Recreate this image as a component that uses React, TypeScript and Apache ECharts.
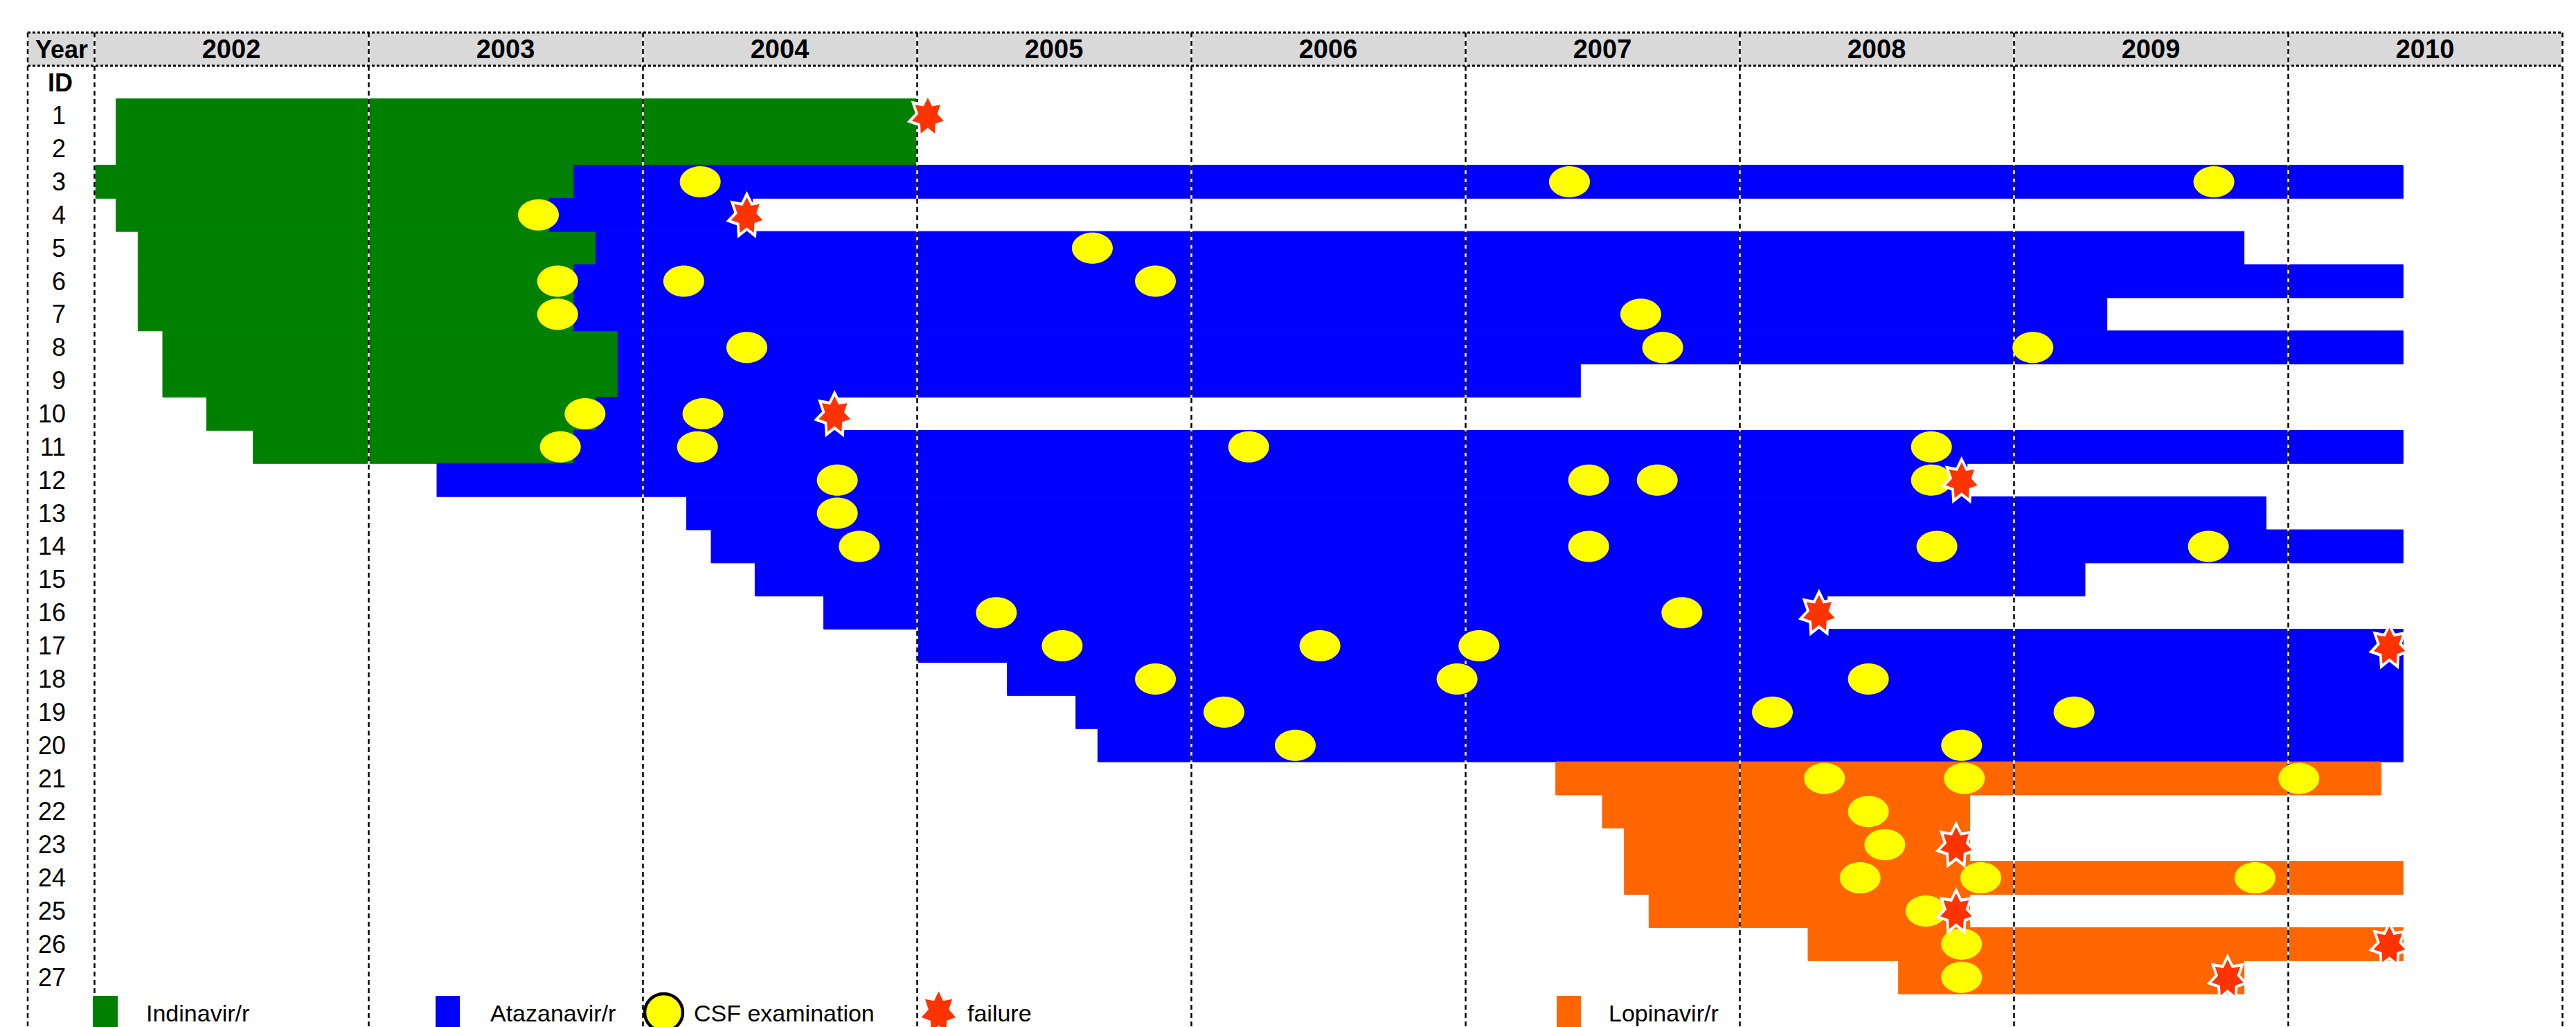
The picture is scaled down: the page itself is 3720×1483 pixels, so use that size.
import React, { useEffect, useRef } from 'react';
import * as echarts from 'echarts';

// ---------------- data ----------------
const rowCategories = [
  'Year', 'ID',
  '1', '2', '3', '4', '5', '6', '7', '8', '9', '10', '11', '12', '13', '14',
  '15', '16', '17', '18', '19', '20', '21', '22', '23', '24', '25', '26', '27',
  'legend',
];
const yearLabels = ['2002', '2003', '2004', '2005', '2006', '2007', '2008', '2009', '2010'];
const yearBoundaries = [2002, 2003, 2004, 2005, 2006, 2007, 2008, 2009, 2010, 2011];
const legendLabels = ['Indinavir/r', 'Atazanavir/r', 'CSF examination', 'failure', 'Lopinavir/r'];

// [patient ID, start, end] in decimal years
const indinavirSpans: [string, number, number][] = [
  ['1', 2002.08, 2005.0],
  ['2', 2002.08, 2005.0],
  ['3', 2002.0, 2003.75],
  ['4', 2002.08, 2003.66],
  ['5', 2002.16, 2003.83],
  ['6', 2002.16, 2003.75],
  ['7', 2002.16, 2003.75],
  ['8', 2002.25, 2003.91],
  ['9', 2002.25, 2003.91],
  ['10', 2002.41, 2003.83],
  ['11', 2002.58, 2003.75],
];
const atazanavirSpans: [string, number, number][] = [
  ['3', 2003.75, 2010.42],
  ['4', 2003.66, 2004.4],
  ['5', 2003.83, 2009.84],
  ['6', 2003.75, 2010.42],
  ['7', 2003.75, 2009.34],
  ['8', 2003.91, 2010.42],
  ['9', 2003.91, 2007.42],
  ['10', 2003.83, 2004.71],
  ['11', 2003.75, 2010.42],
  ['12', 2003.25, 2008.83],
  ['13', 2004.16, 2009.92],
  ['14', 2004.25, 2010.42],
  ['15', 2004.41, 2009.26],
  ['16', 2004.66, 2008.32],
  ['17', 2005.0, 2010.42],
  ['18', 2005.33, 2010.42],
  ['19', 2005.58, 2010.42],
  ['20', 2005.66, 2010.42],
];
const lopinavirSpans: [string, number, number][] = [
  ['21', 2007.33, 2010.34],
  ['22', 2007.5, 2008.84],
  ['23', 2007.58, 2008.84],
  ['24', 2007.58, 2010.42],
  ['25', 2007.67, 2008.84],
  ['26', 2008.25, 2010.42],
  ['27', 2008.58, 2009.84],
];
// [patient ID, time]
const csfExams: [string, number][] = [
  ['3', 2004.21], ['3', 2007.38], ['3', 2009.73],
  ['4', 2003.62],
  ['5', 2005.64],
  ['6', 2003.69], ['6', 2004.15], ['6', 2005.87],
  ['7', 2003.69], ['7', 2007.64],
  ['8', 2004.38], ['8', 2007.72], ['8', 2009.07],
  ['10', 2003.79], ['10', 2004.22],
  ['11', 2003.7], ['11', 2004.2], ['11', 2006.21], ['11', 2008.7],
  ['12', 2004.71], ['12', 2007.45], ['12', 2007.7], ['12', 2008.7],
  ['13', 2004.71],
  ['14', 2004.79], ['14', 2007.45], ['14', 2008.72], ['14', 2009.71],
  ['16', 2005.29], ['16', 2007.79],
  ['17', 2005.53], ['17', 2006.47], ['17', 2007.05],
  ['18', 2005.87], ['18', 2006.97], ['18', 2008.47],
  ['19', 2006.12], ['19', 2008.12], ['19', 2009.22],
  ['20', 2006.38], ['20', 2008.81],
  ['21', 2008.31], ['21', 2008.82], ['21', 2010.04],
  ['22', 2008.47],
  ['23', 2008.53],
  ['24', 2008.44], ['24', 2008.88], ['24', 2009.88],
  ['25', 2008.68],
  ['26', 2008.81],
  ['27', 2008.81],
];
const failures: [string, number][] = [
  ['1', 2005.04],
  ['4', 2004.38],
  ['10', 2004.7],
  ['12', 2008.81],
  ['16', 2008.29],
  ['17', 2010.37],
  ['23', 2008.79],
  ['25', 2008.79],
  ['26', 2010.37],
  ['27', 2009.78],
];

// ---------------- styles ----------------
const FONT = '"Liberation Sans", Arial, Helvetica, sans-serif';
const GREEN = '#008000';
const BLUE = '#0000FF';
const ORANGE = '#FF6600';
const YELLOW = '#FFFF00';
const RED = '#FF3300';

function starPoints(points: number, rx: number, ry: number, innerRatio: number, cx = 0, cy = 0) {
  const pts: number[][] = [];
  for (let i = 0; i < points * 2; i++) {
    const k = i % 2 === 0 ? 1 : innerRatio;
    const a = -Math.PI / 2 + (i * Math.PI) / points;
    pts.push([cx + rx * k * Math.cos(a), cy + ry * k * Math.sin(a)]);
  }
  return pts;
}
const STAR =
  'path://' +
  starPoints(7, 100, 100, 0.6)
    .map((p, i) => (i === 0 ? 'M' : 'L') + p[0].toFixed(2) + ',' + p[1].toFixed(2))
    .join(' ') +
  ' Z';
const ELLIPSE =
  'path://M100,0 C100,55.2 55.2,100 0,100 C-55.2,100 -100,55.2 -100,0 C-100,-55.2 -55.2,-100 0,-100 C55.2,-100 100,-55.2 100,0 Z';

function spanSeries(name: string, color: string, spans: [string, number, number][]) {
  return {
    type: 'custom',
    name,
    z: 2,
    itemStyle: { color },
    encode: { x: [0, 1], y: 2 },
    data: spans.map(([id, s, e]) => [s, e, id]),
    renderItem: (params: any, api: any) => {
      const row = api.value(2);
      const p0 = api.coord([api.value(0), row]);
      const p1 = api.coord([api.value(1), row]);
      const h = api.size([0, 1])[1];
      return {
        type: 'rect',
        shape: { x: p0[0], y: p0[1] - h / 2, width: p1[0] - p0[0], height: h },
        style: { fill: color, stroke: color, lineWidth: 1 },
      };
    },
  };
}

function legendText(text: string, x: number) {
  return {
    type: 'text', z: 10, silent: true, x, y: 1463,
    style: {
      text, fontSize: 34, fontFamily: FONT, fill: '#000',
      align: 'left', verticalAlign: 'middle',
    },
  };
}

export default function App() {
  const ref = useRef<HTMLDivElement>(null);
  useEffect(() => {
    if (!ref.current) return;
    const chart = echarts.init(ref.current, undefined, { renderer: 'svg' });
    const gridMarkLine = (color: string, type: any, z: number) => ({
      silent: true,
      z,
      symbol: ['none', 'none'],
      label: { show: false },
      emphasis: { disabled: true },
      lineStyle: { color, width: 2.5, type, opacity: 1 },
      data: yearBoundaries.map((y) => ({ xAxis: y })),
    });
    const option: any = {
      animation: false,
      backgroundColor: '#FFFFFF',
      grid: { left: 136, right: 20, top: 47, bottom: -4, containLabel: false },
      xAxis: [
        { type: 'value', min: 2002, max: 2011, position: 'bottom', show: false },
        {
          type: 'category',
          data: yearLabels,
          position: 'top',
          boundaryGap: true,
          axisLine: { show: false },
          axisTick: { show: false },
          splitLine: { show: false },
          axisLabel: {
            inside: true,
            interval: 0,
            margin: 24,
            verticalAlign: 'middle',
            fontSize: 38,
            fontWeight: 'bold',
            color: '#000',
            fontFamily: FONT,
          },
        },
      ],
      yAxis: {
        type: 'category',
        data: rowCategories,
        inverse: true,
        axisLine: { show: false },
        axisTick: { show: false },
        splitLine: { show: false },
        axisLabel: {
          interval: 0,
          margin: 41,
          align: 'right',
          fontSize: 36,
          color: '#000',
          fontFamily: FONT,
          formatter: (v: string) => (/^\d+$/.test(v) ? v : ''),
        },
      },
      graphic: [
        {
          type: 'rect', z: -1, silent: true,
          shape: { x: 40, y: 47, width: 3660, height: 48 },
          style: { fill: '#D9D9D9' },
        },
        {
          type: 'line', z: 10, silent: true,
          shape: { x1: 40, y1: 47, x2: 3700, y2: 47 },
          style: { stroke: '#000', lineWidth: 3, lineDash: [4, 3] },
        },
        {
          type: 'line', z: 10, silent: true,
          shape: { x1: 40, y1: 95, x2: 3700, y2: 95 },
          style: { stroke: '#000', lineWidth: 3, lineDash: [4, 3] },
        },
        {
          type: 'line', z: 10, silent: true,
          shape: { x1: 40, y1: 47, x2: 40, y2: 1483 },
          style: { stroke: '#000', lineWidth: 2.5, lineDash: [7, 5] },
        },
        {
          type: 'text', z: 10, x: 89, y: 71,
          style: {
            text: 'Year', fontSize: 36, fontWeight: 'bold', fontFamily: FONT,
            fill: '#000', align: 'center', verticalAlign: 'middle',
          },
        },
        {
          type: 'text', z: 10, x: 87, y: 119,
          style: {
            text: 'ID', fontSize: 36, fontWeight: 'bold', fontFamily: FONT,
            fill: '#000', align: 'center', verticalAlign: 'middle',
          },
        },
        // legend (icons run past the lower edge as in the reference)
        {
          type: 'rect', z: 10, silent: true,
          shape: { x: 134, y: 1438, width: 36, height: 60 },
          style: { fill: GREEN },
        },
        legendText(legendLabels[0], 211),
        {
          type: 'rect', z: 10, silent: true,
          shape: { x: 629, y: 1438, width: 35, height: 60 },
          style: { fill: BLUE },
        },
        legendText(legendLabels[1], 708),
        {
          type: 'ellipse', z: 10, silent: true,
          shape: { cx: 958.5, cy: 1462, rx: 27.5, ry: 27 },
          style: { fill: YELLOW, stroke: '#000', lineWidth: 4.5 },
        },
        legendText(legendLabels[2], 1002),
        {
          type: 'polygon', z: 10, silent: true,
          shape: { points: starPoints(7, 27, 33, 0.6, 1355.5, 1462) },
          style: { fill: RED, stroke: '#FFFFFF', lineWidth: 2 },
        },
        legendText(legendLabels[3], 1397),
        {
          type: 'rect', z: 10, silent: true,
          shape: { x: 2248, y: 1438, width: 35, height: 60 },
          style: { fill: ORANGE },
        },
        legendText(legendLabels[4], 2323),
      ],
      series: [
        spanSeries('Indinavir/r', GREEN, indinavirSpans),
        spanSeries('Atazanavir/r', BLUE, atazanavirSpans),
        spanSeries('Lopinavir/r', ORANGE, lopinavirSpans),
        {
          type: 'line', name: 'gridWhite', data: [], silent: true,
          markLine: gridMarkLine('#FFFFFF', 'solid', 4),
        },
        {
          type: 'line', name: 'gridBlack', data: [], silent: true,
          markLine: gridMarkLine('#000000', [7, 5], 5),
        },
        {
          type: 'scatter',
          name: 'CSF examination',
          z: 6,
          symbol: ELLIPSE,
          symbolSize: [59, 45],
          itemStyle: { color: YELLOW, opacity: 1 },
          emphasis: { disabled: true },
          data: csfExams.map(([id, t]) => [t, id]),
        },
        {
          type: 'scatter',
          name: 'failure',
          z: 7,
          symbol: STAR,
          symbolSize: [53, 60],
          itemStyle: { color: RED, borderColor: '#FFFFFF', borderWidth: 4, opacity: 1 },
          emphasis: { disabled: true },
          data: failures.map(([id, t]) => [t, id]),
        },
      ],
    };
    chart.setOption(option);
    return () => chart.dispose();
  }, []);
  return (
    <div
      ref={ref}
      style={{ position: 'fixed', left: 0, top: 0, width: 3720, height: 1483, background: '#fff' }}
    />
  );
}
